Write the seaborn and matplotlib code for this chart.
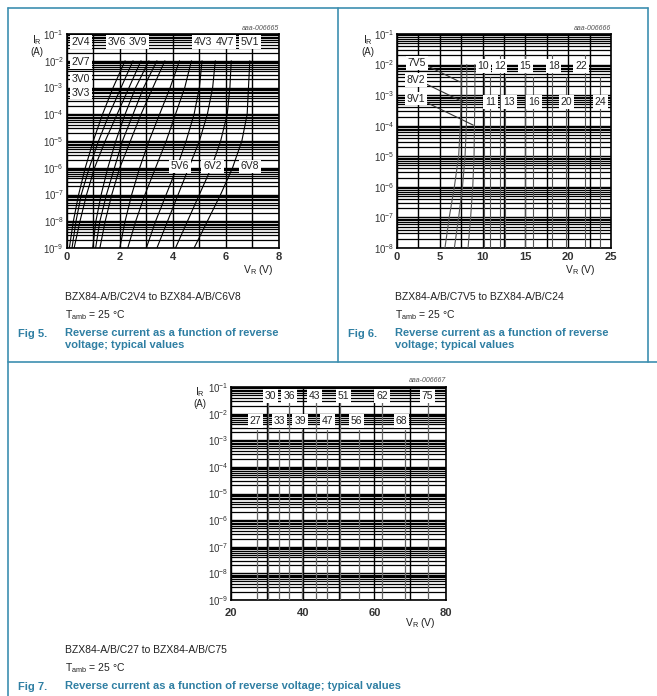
import numpy as np
import pandas as pd
import matplotlib
matplotlib.use("Agg")
import matplotlib.pyplot as plt
import seaborn as sns
from matplotlib.ticker import LogLocator, NullFormatter, FixedLocator

sns.set_theme(style="white")
plt.rcParams["font.family"] = ["Liberation Sans", "DejaVu Sans"]
plt.rcParams["mathtext.fontset"] = "custom"
plt.rcParams["mathtext.rm"] = "Liberation Sans"
plt.rcParams["mathtext.it"] = "Liberation Sans"

W, H = 657, 696
TEAL = "#3d8fb0"
CAPTION = "#2f7fa3"

# ---------------- Fig 5: BZX84 C2V4 .. C6V8 ----------------
# reverse current levels (A) at which each curve's voltage is given
i_levels_low = [1e-9, 1e-8, 1e-7, 1e-6, 1e-5, 1e-4, 1e-3, 1e-2]
v_2v4 = [0.10, 0.25, 0.45, 0.70, 1.00, 1.35, 1.75, 2.20]
v_2v7 = [0.20, 0.35, 0.55, 0.85, 1.20, 1.60, 2.05, 2.50]
v_3v0 = [0.28, 0.50, 0.75, 1.05, 1.45, 1.90, 2.35, 2.80]
v_3v3 = [0.98, 1.10, 1.30, 1.55, 1.85, 2.20, 2.60, 3.10]
v_3v6 = [1.09, 1.25, 1.50, 1.80, 2.10, 2.50, 2.90, 3.40]
v_3v9 = [1.25, 1.45, 1.70, 2.00, 2.40, 2.80, 3.25, 3.70]
v_4v3 = [2.00, 2.20, 2.45, 2.75, 3.10, 3.50, 3.90, 4.25]
v_4v7 = [2.30, 2.60, 2.95, 3.35, 3.75, 4.10, 4.45, 4.70]
v_5v1 = [3.00, 3.35, 3.75, 4.15, 4.50, 4.80, 5.00, 5.10]
v_5v6 = [3.40, 3.80, 4.20, 4.60, 5.00, 5.30, 5.50, 5.60]
v_6v2 = [4.10, 4.55, 5.00, 5.45, 5.80, 6.05, 6.15, 6.20]
v_6v8 = [4.80, 5.30, 5.80, 6.25, 6.60, 6.80, 6.85, 6.90]
curves_low = {"2V4": v_2v4, "2V7": v_2v7, "3V0": v_3v0, "3V3": v_3v3,
              "3V6": v_3v6, "3V9": v_3v9, "4V3": v_4v3, "4V7": v_4v7,
              "5V1": v_5v1, "5V6": v_5v6, "6V2": v_6v2, "6V8": v_6v8}
labels_low = ["2V4", "3V6", "3V9", "4V3", "4V7", "5V1",
              "2V7", "3V0", "3V3", "5V6", "6V2", "6V8"]
label_v_low = [0.54, 1.88, 2.70, 5.12, 5.96, 6.90,
               0.54, 0.54, 0.54, 4.26, 5.49, 6.90]
label_i_low = [10**-1.29, 10**-1.29, 10**-1.29, 10**-1.29, 10**-1.29, 10**-1.29,
               10**-2.06, 10**-2.69, 10**-3.19, 10**-5.95, 10**-5.95, 10**-5.95]

# ---------------- Fig 6: BZX84 C7V5 .. C24 ----------------
i_levels_mid = [1e-8, 1e-7, 1e-6, 1e-5, 1e-4, 1e-3, 1e-2]
v_7v5 = [5.60, 6.10, 6.70, 7.20, 7.40, 7.50, 7.50]
v_8v2 = [6.70, 7.20, 7.65, 7.95, 8.10, 8.15, 8.15]
v_9v1 = [8.30, 8.60, 8.85, 9.00, 9.05, 9.10, 9.10]
curves_mid = {"7V5": v_7v5, "8V2": v_8v2, "9V1": v_9v1}
vert_names_mid = ["10", "11", "12", "13", "15", "16", "18", "20", "22", "24"]
vert_v_mid = [10.2, 10.9, 12.0, 12.6, 15.0, 15.9, 18.1, 19.8, 22.0, 23.7]
vert_top_mid = [2e-2, 4e-3, 2e-2, 4e-3, 2e-2, 4e-3, 2e-2, 4e-3, 2e-2, 4e-3]
labels_mid = ["7V5", "8V2", "9V1", "10", "12", "15", "18", "22",
              "11", "13", "16", "20", "24"]
label_v_mid = [2.34, 2.19, 2.19, 10.1, 12.0, 15.0, 18.3, 21.5,
               10.9, 13.1, 16.0, 19.8, 23.75]
label_i_mid = [10**-1.94, 10**-2.51, 10**-3.11] + [10**-2.05] * 5 + [10**-3.22] * 5
# leader lines from the small labels to their curves: (label end, curve end)
leader_mid = {"7V5": ((3.6, 10**-2.05), (7.3, 10**-2.56)),
              "8V2": ((3.3, 10**-2.62), (7.7, 10**-3.22)),
              "9V1": ((3.3, 10**-3.22), (8.9, 10**-3.98))}

# ---------------- Fig 7: BZX84 C27 .. C75 ----------------
vert_names_high = ["27", "30", "33", "36", "39", "43", "47", "51", "56", "62", "68", "75"]
vert_v_high = [27.2, 30.2, 33.4, 36.2, 39.7, 43.8, 46.8, 50.4, 55.6, 62.2, 68.6, 75.0]
vert_top_high = [10**-2.6, 10**-1.55, 10**-2.6, 10**-1.55, 10**-2.6, 10**-1.55,
                 10**-2.6, 10**-1.55, 10**-2.6, 10**-1.55, 10**-2.6, 10**-1.55]
labels_high = ["30", "36", "43", "51", "62", "75", "27", "33", "39", "47", "56", "68"]
label_v_high = [31.0, 36.2, 43.3, 51.4, 62.1, 74.8, 26.8, 33.6, 39.3, 47.0, 55.1, 67.6]
label_i_high = [10**-1.35] * 6 + [10**-2.29] * 6


def px_axes(l, t, r, b):
    return [l / W, 1 - b / H, (r - l) / W, (b - t) / H]


def style_log_axes(ax, ymin, ymax, xmin, xmax, xmajor, xlabels, xgrid, xpad=3):
    ax.set_yscale("log")
    ax.set_ylim(ymin, ymax)
    ax.set_xlim(xmin, xmax)
    ax.yaxis.set_minor_locator(LogLocator(base=10, subs=np.arange(2, 10), numticks=20))
    ax.yaxis.set_minor_formatter(NullFormatter())
    dec = range(int(round(np.log10(ymin))), int(round(np.log10(ymax))) + 1)
    ax.set_yticks([10.0 ** d for d in dec])
    ax.set_yticklabels([r"10$^{%d}$" % d for d in dec], fontsize=7, color="#333333")
    ax.set_xticks(xmajor)
    ax.set_xticklabels(xlabels, fontsize=8, fontweight="bold", color="#333333")
    ax.xaxis.set_minor_locator(FixedLocator(xgrid))
    ax.grid(which="major", axis="both", color="black", lw=1.0)
    ax.grid(which="minor", axis="y", color="black", lw=0.9)
    ax.grid(which="minor", axis="x", color="black", lw=1.0)
    ax.tick_params(which="both", length=0, colors="#333333")
    ax.tick_params(axis="x", pad=xpad)
    ax.tick_params(axis="y", pad=2)
    for s in ax.spines.values():
        s.set_color("black")
        s.set_linewidth(1.2)
    ax.set_xlabel("")
    ax.set_ylabel("")
    ax.set_axisbelow(True)


def box_label(ax, x, y, s):
    ax.text(x, y, s, ha="center", va="center", fontsize=7.5, color="#222222",
            bbox=dict(boxstyle="square,pad=0.18", fc="white", ec="none"), zorder=6)


fig = plt.figure(figsize=(W / 100, H / 100), dpi=100)
fig.patch.set_facecolor("white")

# frame of the three figure blocks
frame = dict(color=TEAL, lw=1.2, transform=fig.transFigure)
fig.add_artist(plt.Line2D([8 / W, 8 / W], [0, 1 - 8 / H], **frame))
fig.add_artist(plt.Line2D([8 / W, 648 / W], [1 - 8 / H, 1 - 8 / H], **frame))
fig.add_artist(plt.Line2D([648 / W, 648 / W], [1 - 8 / H, 1 - 362 / H], **frame))
fig.add_artist(plt.Line2D([338 / W, 338 / W], [1 - 8 / H, 1 - 362 / H], **frame))
fig.add_artist(plt.Line2D([8 / W, 1], [1 - 362 / H, 1 - 362 / H], **frame))

# ---- panel: Fig 5 ----
ax1 = fig.add_axes(px_axes(66.7, 34, 279, 248))
rows = []
for name, vs in curves_low.items():
    for v, i in zip(vs, i_levels_low):
        rows.append((name, v, i))
df_low = pd.DataFrame(rows, columns=["type", "VR", "IR"])
sns.lineplot(data=df_low, x="VR", y="IR", units="type", estimator=None, sort=False,
             color="black", lw=0.8, ax=ax1, zorder=3)
style_log_axes(ax1, 1e-9, 1e-1, 0, 8, [0, 2, 4, 6, 8], ["0", "2", "4", "6", "8"],
               [1, 3, 5, 7])
for s, v, i in zip(labels_low, label_v_low, label_i_low):
    box_label(ax1, v, i, s)

# ---- panel: Fig 6 ----
ax2 = fig.add_axes(px_axes(397, 34, 611, 248))
rows = []
for name, vs in curves_mid.items():
    for v, i in zip(vs, i_levels_mid):
        rows.append((name, v, i))
for name, v, top in zip(vert_names_mid, vert_v_mid, vert_top_mid):
    rows.append((name, v, 1e-8))
    rows.append((name, v, top))
df_mid = pd.DataFrame(rows, columns=["type", "VR", "IR"])
sns.lineplot(data=df_mid, x="VR", y="IR", units="type", estimator=None, sort=False,
             color="#555555", lw=0.8, ax=ax2, zorder=3)
style_log_axes(ax2, 1e-8, 1e-1, 0, 25, [0, 5, 10, 15, 20, 25],
               ["0", "5", "10", "15", "20", "25"], [2.5, 7.5, 12.5, 17.5, 22.5])
for name, (p0, p1) in leader_mid.items():
    ax2.plot([p0[0], p1[0]], [p0[1], p1[1]], color="#333333", lw=0.8, zorder=4)
for s, v, i in zip(labels_mid, label_v_mid, label_i_mid):
    box_label(ax2, v, i, s)

# ---- panel: Fig 7 ----
ax3 = fig.add_axes(px_axes(231, 387, 446, 600))
rows = []
for name, v, top in zip(vert_names_high, vert_v_high, vert_top_high):
    rows.append((name, v, 1e-9))
    rows.append((name, v, top))
df_high = pd.DataFrame(rows, columns=["type", "VR", "IR"])
sns.lineplot(data=df_high, x="VR", y="IR", units="type", estimator=None, sort=False,
             color="#666666", lw=0.9, ax=ax3, zorder=3)
style_log_axes(ax3, 1e-9, 1e-1, 20, 80, [20, 40, 60, 80], ["20", "40", "60", "80"],
               [30, 50, 70], xpad=5.5)
for s, v, i in zip(labels_high, label_v_high, label_i_high):
    box_label(ax3, v, i, s)


# ---- axis titles, drawing codes and captions ----
def ptext(x, y, s, **kw):
    fig.text(x / W, 1 - y / H, s, **kw)


for (ix, iy, vx, vy, code, cx) in [(37, 40, 258, 270, "aaa-006665", 279),
                                    (368, 40, 580, 270, "aaa-006666", 611),
                                    (200, 392, 420, 623, "aaa-006667", 446)]:
    ptext(ix, iy, r"I$_\mathregular{R}$", ha="center", va="center", fontsize=7.5, color="#222222")
    ptext(ix, iy + 12, "(A)", ha="center", va="center", fontsize=7, color="#222222")
    ptext(vx, vy, r"V$_\mathregular{R}$ (V)", ha="center", va="center", fontsize=7.5, color="#222222")
    ptext(cx, iy - 11, code, ha="right", va="center", fontsize=5, style="italic", color="#555555")

for (x0, y0, sub, fig_no, cap) in [
        (65, 297, "BZX84-A/B/C2V4 to BZX84-A/B/C6V8", "Fig 5.",
         "Reverse current as a function of reverse\nvoltage; typical values"),
        (395, 297, "BZX84-A/B/C7V5 to BZX84-A/B/C24", "Fig 6.",
         "Reverse current as a function of reverse\nvoltage; typical values"),
        (65, 650, "BZX84-A/B/C27 to BZX84-A/B/C75", "Fig 7.",
         "Reverse current as a function of reverse voltage; typical values")]:
    ptext(x0, y0, sub, ha="left", va="center", fontsize=7.5, color="#222222")
    ptext(x0, y0 + 18, r"T$_\mathregular{amb}$ = 25 °C", ha="left", va="center", fontsize=7.5,
          color="#222222")
    ptext(x0 - 47, y0 + 37, fig_no, ha="left", va="center", fontsize=8, fontweight="bold",
          color=CAPTION)
    ptext(x0, y0 + 31, cap, ha="left", va="top", fontsize=8, fontweight="bold", color=CAPTION,
          linespacing=1.3)

fig.savefig("out.png", dpi=100, facecolor="white")
